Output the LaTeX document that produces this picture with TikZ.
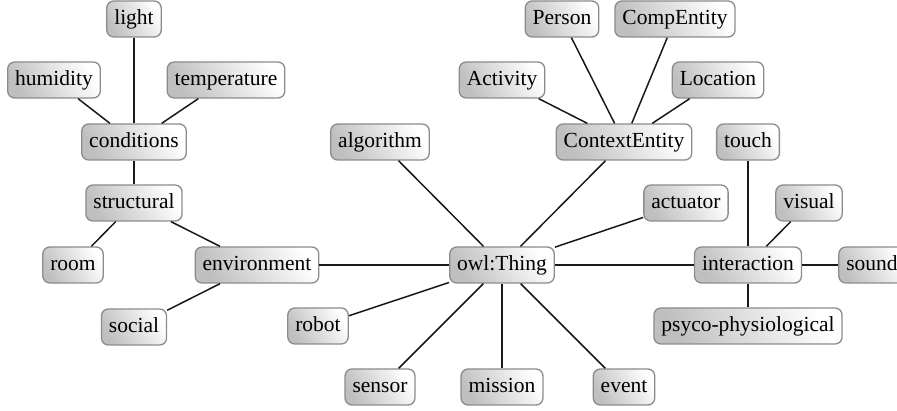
\documentclass[tikz,border=0pt]{standalone}
\usepackage{fontspec}
\setmainfont{Liberation Serif}
\begin{document}
\begin{tikzpicture}[x=1pt,y=-1pt,
  box/.style={draw=black!45, line width=1.3pt, rounded corners=7pt,
    shading=axis, top color=white, bottom color=black!25, shading angle=-60,
    inner xsep=7.5pt, minimum height=36pt, text height=15pt, text depth=4pt,
    font=\fontsize{21.5}{25}\selectfont, text=black},
  link/.style={draw=black!90, line width=1.5pt}]
\useasboundingbox (0,0) rectangle (897,411);
\node[box] (light) at (134,19) {light};
\node[box] (humidity) at (54,80) {humidity};
\node[box] (temperature) at (226,80) {temperature};
\node[box] (conditions) at (134,142) {conditions};
\node[box] (structural) at (134,203) {structural};
\node[box] (room) at (73,265) {room};
\node[box] (environment) at (257,265) {environment};
\node[box] (social) at (134,327) {social};
\node[box] (robot) at (318,326) {robot};
\node[box] (algorithm) at (380,142) {algorithm};
\node[box] (activity) at (502,80) {Activity};
\node[box] (person) at (562,19) {Person};
\node[box] (compentity) at (675,19) {CompEntity};
\node[box] (location) at (718,80) {Location};
\node[box] (contextentity) at (624,142) {ContextEntity};
\node[box] (touch) at (748,142) {touch};
\node[box] (actuator) at (686,203) {actuator};
\node[box] (visual) at (809,203) {visual};
\node[box] (owl) at (502,265) {owl:Thing};
\node[box] (interaction) at (748,265) {interaction};
\node[box] (sound) at (872,265) {sound};
\node[box] (psyco) at (748,326) {psyco-physiological};
\node[box] (sensor) at (380,387) {sensor};
\node[box] (mission) at (502,387) {mission};
\node[box] (event) at (624,387) {event};
\draw[link] (light) -- (conditions);
\draw[link] (humidity) -- (conditions);
\draw[link] (temperature) -- (conditions);
\draw[link] (conditions) -- (structural);
\draw[link] (structural) -- (room);
\draw[link] (structural) -- (environment);
\draw[link] (environment) -- (social);
\draw[link] (environment) -- (owl);
\draw[link] (owl) -- (algorithm);
\draw[link] (owl) -- (contextentity);
\draw[link] (owl) -- (actuator);
\draw[link] (owl) -- (interaction);
\draw[link] (owl) -- (robot);
\draw[link] (owl) -- (sensor);
\draw[link] (owl) -- (mission);
\draw[link] (owl) -- (event);
\draw[link] (contextentity) -- (activity);
\draw[link] (contextentity) -- (person);
\draw[link] (contextentity) -- (compentity);
\draw[link] (contextentity) -- (location);
\draw[link] (interaction) -- (touch);
\draw[link] (interaction) -- (visual);
\draw[link] (interaction) -- (sound);
\draw[link] (interaction) -- (psyco);
\end{tikzpicture}
\end{document}
